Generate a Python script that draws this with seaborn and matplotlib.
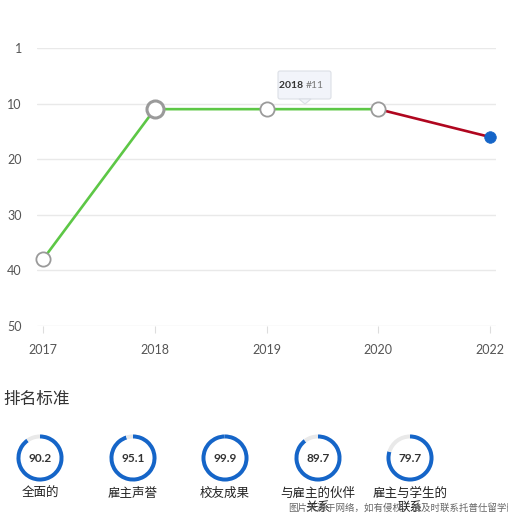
import matplotlib
matplotlib.use("Agg")
import matplotlib.pyplot as plt
import seaborn as sns
import pandas as pd
from matplotlib.patches import Polygon, FancyBboxPatch

years = ["2017", "2018", "2019", "2020", "2022"]
ranks = [38, 11, 11, 11, 16]
ytick_vals = [0, 10, 20, 30, 40, 50]
ytick_labels = ["1", "10", "20", "30", "40", "50"]
criteria = ["全面的", "雇主声誉", "校友成果", "与雇主的伙伴\n关系", "雇主与学生的\n联系"]
scores = [90.2, 95.1, 99.9, 89.7, 79.7]
section_title = "排名标准"
tooltip_year = "2018"
tooltip_rank = "#11"
watermark = "图片来源于网络，如有侵权，请及时联系托普仕留学删除"

sns.set_theme(style="white")
plt.rcParams["font.family"] = ["Lato", "Noto Sans CJK SC", "DejaVu Sans"]

W, H = 508, 520
fig = plt.figure(figsize=(W / 100, H / 100), dpi=100)

def fx(px):
    return px / W

def fy(py):
    return 1 - py / H

# main line chart
ax = fig.add_axes([fx(37), fy(326), fx(496) - fx(37), fy(48) - fy(326)])
pos = list(range(len(years)))
df = pd.DataFrame({"pos": pos, "rank": ranks, "year": years})

green = "#5dc746"
red = "#b0061f"
blue = "#1565c8"

sns.lineplot(data=df.iloc[:4], x="pos", y="rank", color=green, linewidth=1.9, ax=ax, zorder=2)
sns.lineplot(data=df.iloc[3:], x="pos", y="rank", color=red, linewidth=1.9, ax=ax, zorder=2)

open_df = df.iloc[[0, 2, 3]]
sns.scatterplot(data=open_df, x="pos", y="rank", s=105, color="white", edgecolor="#9a9a9a",
                linewidth=1.3, ax=ax, zorder=3, clip_on=False)
sns.scatterplot(data=df.iloc[[1]], x="pos", y="rank", s=150, color="white", edgecolor="#9a9a9a",
                linewidth=2.2, ax=ax, zorder=3, clip_on=False)
sns.scatterplot(data=df.iloc[[4]], x="pos", y="rank", s=70, color=blue, edgecolor=blue,
                linewidth=0.5, ax=ax, zorder=3, clip_on=False)

ax.set_xlim(-0.054, 4.054)
ax.set_ylim(50, 0)
ax.set_yticks(ytick_vals)
ax.set_yticklabels(ytick_labels)
ax.set_xticks(pos)
ax.set_xticklabels(years)
ax.set_xlabel("")
ax.set_ylabel("")
for s in ["top", "right", "left", "bottom"]:
    ax.spines[s].set_visible(False)
ax.grid(axis="y", color="#e9e9e9", linewidth=1)
ax.tick_params(axis="y", length=0, pad=11, labelsize=9, labelcolor="#555555")
ax.tick_params(axis="x", length=5, width=0.8, color="#dddddd", pad=8, labelsize=9,
               labelcolor="#555555", direction="out", bottom=True)

# tooltip
fig.text(fx(306), fy(85), tooltip_year + " ", ha="right", va="center", fontsize=7.5,
         fontweight="bold", color="#333333")
fig.text(fx(306), fy(85), tooltip_rank, ha="left", va="center", fontsize=7.5, color="#777777")
box = FancyBboxPatch((fx(278), fy(99)), fx(331) - fx(278), fy(71) - fy(99),
                     boxstyle="round,pad=0,rounding_size=0.004", transform=fig.transFigure,
                     facecolor="#f2f4fa", edgecolor="#dcdfe6", linewidth=0.8, zorder=0)
fig.patches.append(box)
tri = Polygon([[fx(299), fy(99)], [fx(311), fy(99)], [fx(305), fy(104)]], closed=True,
              transform=fig.transFigure, facecolor="#f2f4fa", edgecolor="#dcdfe6", linewidth=0.8)
fig.patches.append(tri)

# section title
fig.text(fx(3), fy(399), section_title, ha="left", va="center", fontsize=12, color="#333333")

# gauges
centers = [40, 133, 225, 318, 410]
r = 24
for cx, name, val in zip(centers, criteria, scores):
    gax = fig.add_axes([fx(cx - r), fy(458 + r), fx(2 * r), fy(0) - fy(2 * r)])
    gax.pie([val, 100 - val], startangle=90, counterclock=False, colors=[blue, "#e9e9e9"],
            radius=1, wedgeprops=dict(width=0.17, edgecolor="none"))
    gax.set_xlim(-1.02, 1.02)
    gax.set_ylim(-1.02, 1.02)
    gax.set_aspect("equal")
    gax.axis("off")
    gax.text(0, 0, f"{val}", ha="center", va="center", fontsize=8.5, fontweight="bold",
             color="#333333")
    fig.text(fx(cx), fy(487), name, ha="center", va="top", fontsize=9, color="#222222",
             linespacing=1.15)

fig.text(fx(288), fy(508), watermark, ha="left", va="center", fontsize=6.8, color="#666666")

fig.savefig("out.png", dpi=100)
